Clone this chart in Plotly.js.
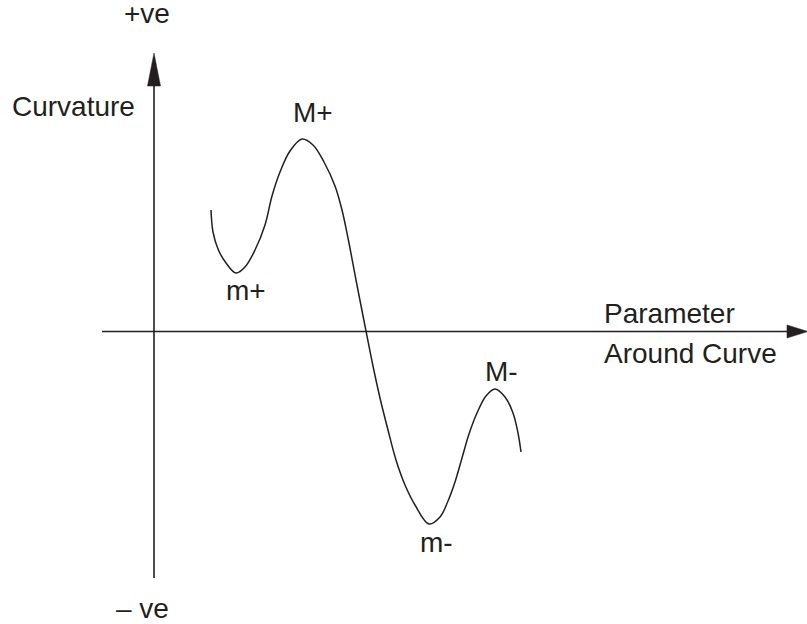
<!DOCTYPE html>
<html>
<head>
<meta charset="utf-8">
<script src="https://cdn.plot.ly/plotly-3.0.1.min.js"></script>
<style>html,body{margin:0;padding:0;background:#fff;}#chart{width:807px;height:624px;}</style>
</head>
<body>
<div id="chart"></div>
<script>
// Curve: parameter around curve (x) vs curvature (y), in drawing units
const curveX = [211,213,218,226,236,245,255,265,272,280,290,302,313,324,335,342,348,356,366,373,380,388,396,405,415,429,440,448,455,462,469,477,486,495,505,513,518,521];
const curveY = [210,232,249,263,273,267,250,225,196,172,151,139,145,162,186,210,238,280,331,366,398,430,460,485,505,524,517,501,482,458,434,413,396,389,397,413,433,452];

// Text labels
const labelTexts = ["+ve", "Curvature", "M+", "m+", "Parameter", "Around Curve", "M-", "m-", "\u2013 ve"];

// ---- layout geometry (not data) ----
const labelPos = [
  [123, 13], [11, 106], [292, 112], [225, 290], [603, 313], [603, 353], [484, 371], [419, 542], [115, 608]
];
const ink = "#231f20";
const fontFam = "Liberation Sans, Arial, Helvetica, sans-serif";

const traces = [{
  x: curveX, y: curveY, type: "scatter", mode: "lines",
  line: {color: ink, width: 1.5, shape: "spline", smoothing: 1},
  hoverinfo: "skip", showlegend: false
}];

const shapes = [
  {type: "line", xref: "x", yref: "y", x0: 154, y0: 80, x1: 154, y1: 578, line: {color: ink, width: 1.6}},
  {type: "line", xref: "x", yref: "y", x0: 102, y0: 331.5, x1: 790, y1: 331.5, line: {color: ink, width: 1.6}},
  {type: "path", xref: "x", yref: "y", path: "M 154 53 L 147.5 86 L 160.5 86 Z", fillcolor: ink, line: {color: ink, width: 0.5}},
  {type: "path", xref: "x", yref: "y", path: "M 808 331.5 L 787 325 L 787 338 Z", fillcolor: ink, line: {color: ink, width: 0.5}}
];

const annotations = labelTexts.map((t, i) => ({
  text: t, x: labelPos[i][0], y: labelPos[i][1], xref: "x", yref: "y",
  xanchor: "left", yanchor: "middle", showarrow: false, borderpad: 0,
  font: {family: fontFam, size: 28, color: ink}
}));

const layout = {
  width: 807, height: 624,
  margin: {l: 0, r: 0, t: 0, b: 0, pad: 0},
  paper_bgcolor: "#ffffff", plot_bgcolor: "#ffffff",
  xaxis: {range: [0, 807], visible: false, fixedrange: true},
  yaxis: {range: [624, 0], visible: false, fixedrange: true},
  shapes: shapes, annotations: annotations, showlegend: false
};

Plotly.newPlot("chart", traces, layout, {staticPlot: true, displayModeBar: false});
</script>
</body>
</html>
